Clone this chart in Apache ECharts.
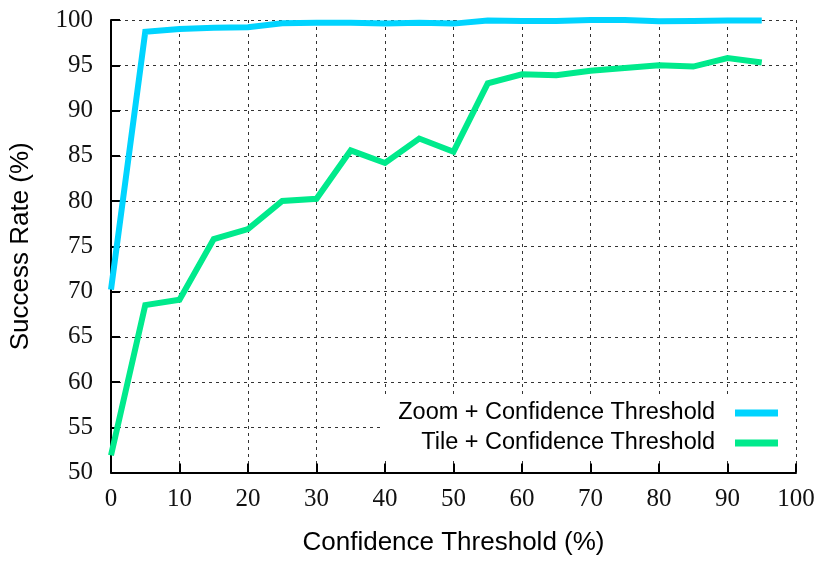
<!DOCTYPE html>
<html>
<head>
<meta charset="utf-8">
<script src="https://cdn.jsdelivr.net/npm/echarts@6/dist/echarts.min.js"></script>
<style>
  html, body { margin: 0; padding: 0; background: #fff; }
  #chart { width: 820px; height: 566px; }
</style>
</head>
<body>
<div id="chart"></div>
<script>
// Confidence threshold (%) on the x axis
const thresholds = [0, 5, 10, 15, 20, 25, 30, 35, 40, 45, 50, 55, 60, 65, 70, 75, 80, 85, 90, 95];

// Success rate (%) for each strategy
const zoomRates = [70.2, 98.7, 99.0, 99.15, 99.2, 99.65, 99.7, 99.7, 99.6, 99.7, 99.6, 99.95, 99.9, 99.9, 100.0, 100.0, 99.85, 99.9, 99.95, 99.95];
const tileRates = [51.9, 68.5, 69.1, 75.8, 76.9, 80.0, 80.25, 85.6, 84.2, 86.9, 85.45, 93.0, 94.0, 93.9, 94.4, 94.7, 95.0, 94.85, 95.8, 95.3];

const seriesNames = ['Zoom + Confidence Threshold', 'Tile + Confidence Threshold'];
const seriesColors = ['#00d4ff', '#00ea8c'];

const xTitle = 'Confidence Threshold (%)';
const yTitle = 'Success Rate (%)';

const serifFont = '"Liberation Serif", "DejaVu Serif", serif';
const sansFont = '"Liberation Sans", Arial, sans-serif';

const chart = echarts.init(document.getElementById('chart'), null, { renderer: 'canvas' });

const gridLine = { show: true, lineStyle: { color: '#333', width: 1, type: [3, 4] } };

const legendText = { fontFamily: sansFont, fontSize: 23.5, color: '#000', lineHeight: 24, padding: [0, 15, 0, 0] };

chart.setOption({
  animation: false,
  backgroundColor: '#fff',
  grid: { left: 111, right: 24, top: 20, bottom: 93.5, containLabel: false },
  xAxis: {
    type: 'value',
    min: 0, max: 100, interval: 10,
    name: xTitle,
    nameLocation: 'middle',
    nameGap: 57,
    nameTextStyle: { fontFamily: sansFont, fontSize: 26, color: '#000' },
    axisLine: { show: true, onZero: false, lineStyle: { color: '#000', width: 2 } },
    axisTick: { show: true, inside: true, length: 9, lineStyle: { color: '#000', width: 2 } },
    axisLabel: { fontFamily: serifFont, fontSize: 25, color: '#111', margin: 14 },
    splitLine: gridLine
  },
  yAxis: {
    type: 'value',
    min: 50, max: 100, interval: 5,
    name: yTitle,
    nameLocation: 'middle',
    nameGap: 77,
    nameTextStyle: { fontFamily: sansFont, fontSize: 26, color: '#000' },
    axisLine: { show: true, onZero: false, lineStyle: { color: '#000', width: 2 } },
    axisTick: { show: true, inside: true, length: 9, lineStyle: { color: '#000', width: 2 } },
    axisLabel: { fontFamily: serifFont, fontSize: 25, color: '#111', margin: 18 },
    splitLine: gridLine
  },
  legend: [
    {
      data: [seriesNames[0]],
      orient: 'vertical',
      align: 'right',
      right: 27,
      top: 394,
      padding: [7, 15, 36, 17],
      backgroundColor: '#fff',
      icon: 'rect',
      itemWidth: 43,
      itemHeight: 7,
      textStyle: legendText,
      selectedMode: false
    },
    {
      data: [seriesNames[1]],
      orient: 'vertical',
      align: 'right',
      right: 42,
      top: 431,
      padding: 0,
      icon: 'rect',
      itemWidth: 43,
      itemHeight: 7,
      textStyle: legendText,
      selectedMode: false
    }
  ],
  series: [
    {
      name: seriesNames[0],
      type: 'line',
      data: thresholds.map((t, i) => [t, zoomRates[i]]),
      showSymbol: false,
      color: seriesColors[0],
      lineStyle: { width: 6, color: seriesColors[0], join: 'miter' },
      z: 3
    },
    {
      name: seriesNames[1],
      type: 'line',
      data: thresholds.map((t, i) => [t, tileRates[i]]),
      showSymbol: false,
      color: seriesColors[1],
      lineStyle: { width: 6, color: seriesColors[1], join: 'miter' },
      z: 3
    }
  ]
});
</script>
</body>
</html>
